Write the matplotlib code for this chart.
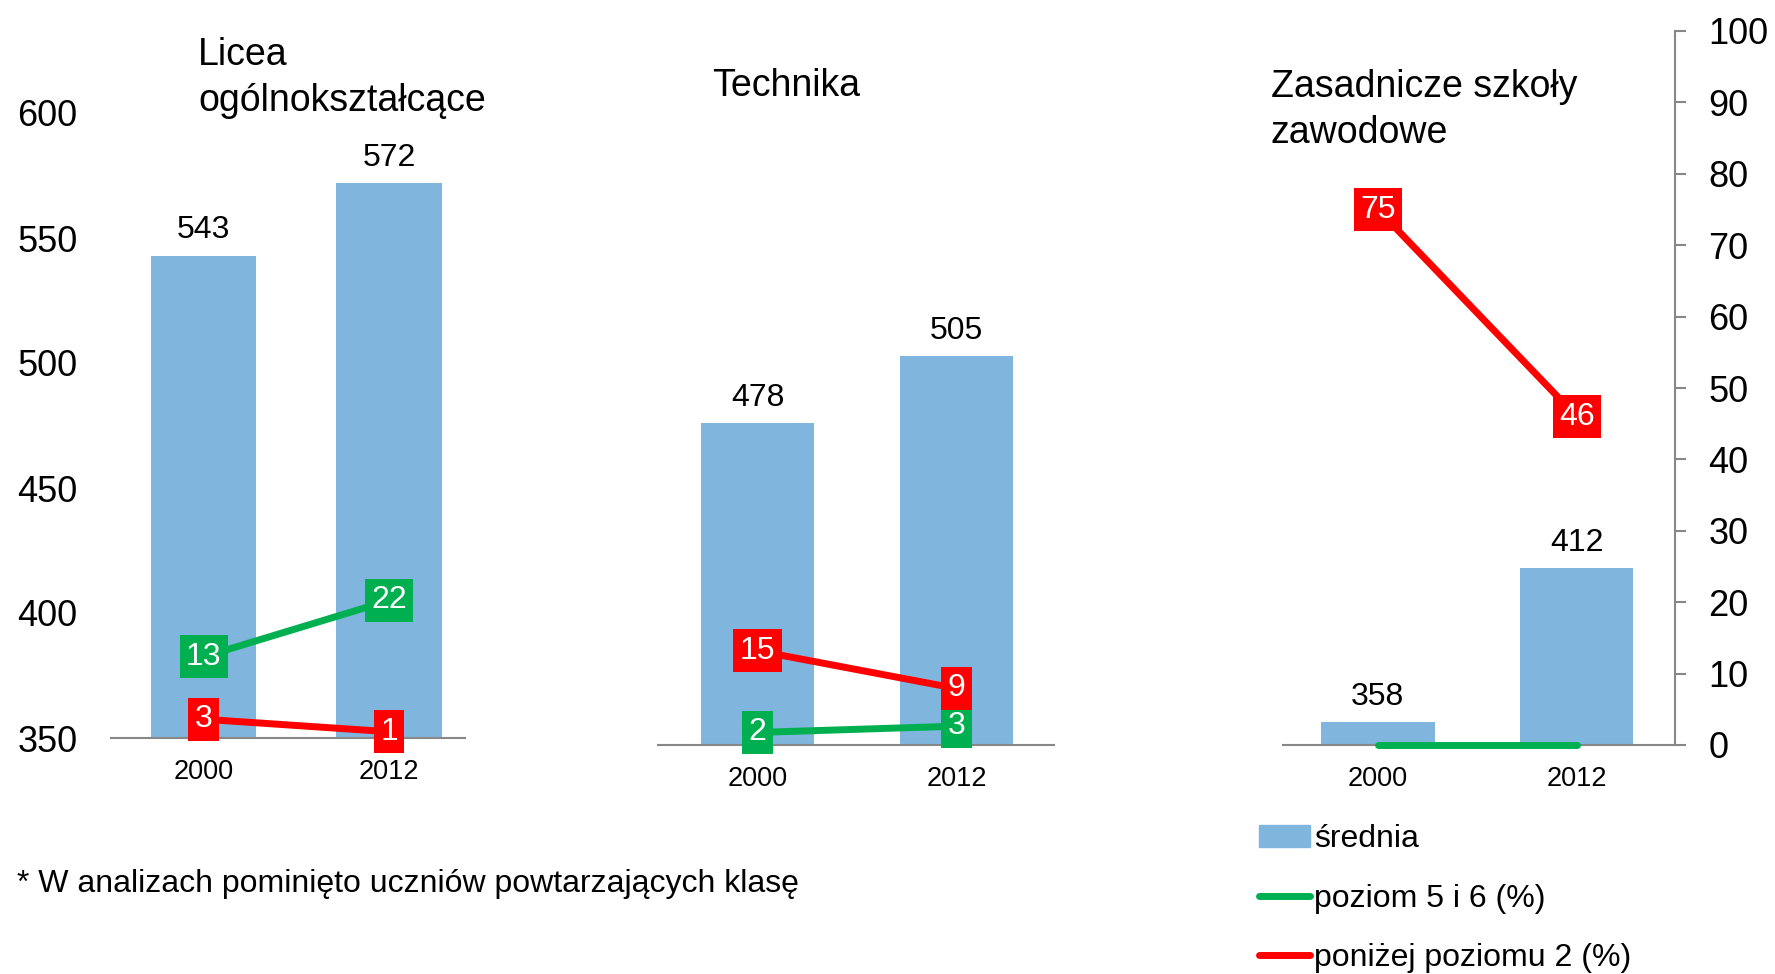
import matplotlib.pyplot as plt
import numpy as np
from matplotlib.patches import Patch
from matplotlib.lines import Line2D

plt.rcParams['font.family'] = ['Liberation Sans', 'DejaVu Sans']

years = ['2000', '2012']
panel_titles = ['Licea\nogólnokształcące', 'Technika', 'Zasadnicze szkoły\nzawodowe']
srednia = [[543, 572], [478, 505], [358, 412]]
poziom_5_6 = [[13, 22], [2, 3], [0, 0]]
ponizej_2 = [[3, 1], [15, 9], [75, 46]]

blue = '#80B6DD'
green = '#00B050'
red = '#FF0000'
grey = '#878787'

W, H = 1775, 974
fig = plt.figure(figsize=(W / 100, H / 100), dpi=100)

# axes boxes in pixels: x0, x1, y_top, y_bottom
boxes = [(111, 465, 113, 738), (658, 1054, 117, 745), (1283, 1675, 31, 745)]
xlims = [(-0.5, 1.41), (-0.5, 1.49), (-0.477, 1.494)]
title_pos = [(198, 78), (712, 86), (1271, 110)]

for i in range(3):
  x0, x1, yt, yb = boxes[i]
  ax = fig.add_axes([x0 / W, 1 - yb / H, (x1 - x0) / W, (yb - yt) / H])
  x = np.arange(len(years))
  ax.bar(x, srednia[i], width=0.57, color=blue, zorder=2)
  ax.set_ylim(350, 600)
  ax.set_xlim(*xlims[i])
  ax.set_xticks(x)
  ax.set_xticklabels(years, fontsize=19.5)
  ax.tick_params(axis='x', length=0, pad=15)
  for s in ['top', 'right', 'left']:
    ax.spines[s].set_visible(False)
  ax.spines['bottom'].set_color(grey)
  ax.spines['bottom'].set_linewidth(1.5)
  if i == 0:
    ax.set_yticks(np.arange(350, 601, 50))
    ax.tick_params(axis='y', length=0, labelsize=26, pad=24)
  else:
    ax.set_yticks([])
  for xi, v in zip(x, srednia[i]):
    ax.annotate(str(v), (xi, v), xytext=(0, 18), textcoords='offset points',
                ha='center', va='center', fontsize=23)

  ax2 = ax.twinx()
  ax2.set_ylim(0, 100)
  for s in ['top', 'left', 'bottom', 'right']:
    ax2.spines[s].set_visible(False)
  if i == 2:
    ax2.spines['right'].set_visible(True)
    ax2.spines['right'].set_color(grey)
    ax2.spines['right'].set_linewidth(1.5)
    ax2.set_yticks(np.arange(0, 101, 10))
    ax2.tick_params(axis='y', length=8, width=1.5, color=grey, labelsize=26, pad=16)
  else:
    ax2.set_yticks([])

  ax2.plot(x, poziom_5_6[i], color=green, lw=5, clip_on=False, zorder=3,
           solid_capstyle='round')
  ax2.plot(x, ponizej_2[i], color=red, lw=5, clip_on=False, zorder=3,
           solid_capstyle='round')
  for vals, c in [(poziom_5_6[i], green), (ponizej_2[i], red)]:
    for xi, v in zip(x, vals):
      if v > 0:
        ax2.text(xi, v, str(v), color='white', fontsize=23, ha='center', va='center',
                 zorder=4, bbox=dict(boxstyle='square,pad=0.2', fc=c, ec='none'))

  tx, ty = title_pos[i]
  fig.text(tx / W, 1 - ty / H, panel_titles[i], fontsize=27, ha='left', va='center',
           linespacing=1.35)

fig.text(17 / W, 1 - 884 / H, '* W analizach pominięto uczniów powtarzających klasę',
         fontsize=23, ha='left', va='center')

handles = [Patch(color=blue),
           Line2D([], [], color=green, lw=5, solid_capstyle='round'),
           Line2D([], [], color=red, lw=5, solid_capstyle='round')]
labels = ['średnia', 'poziom 5 i 6 (%)', 'poniżej poziomu 2 (%)']
fig.legend(handles, labels, loc='upper left', bbox_to_anchor=(1259 / W, 1 - 824 / H),
           frameon=False, fontsize=23, handlelength=1.6, handletextpad=0.12,
           labelspacing=0.93, borderpad=0, borderaxespad=0)

fig.savefig('out.png', dpi=100, facecolor='white')
